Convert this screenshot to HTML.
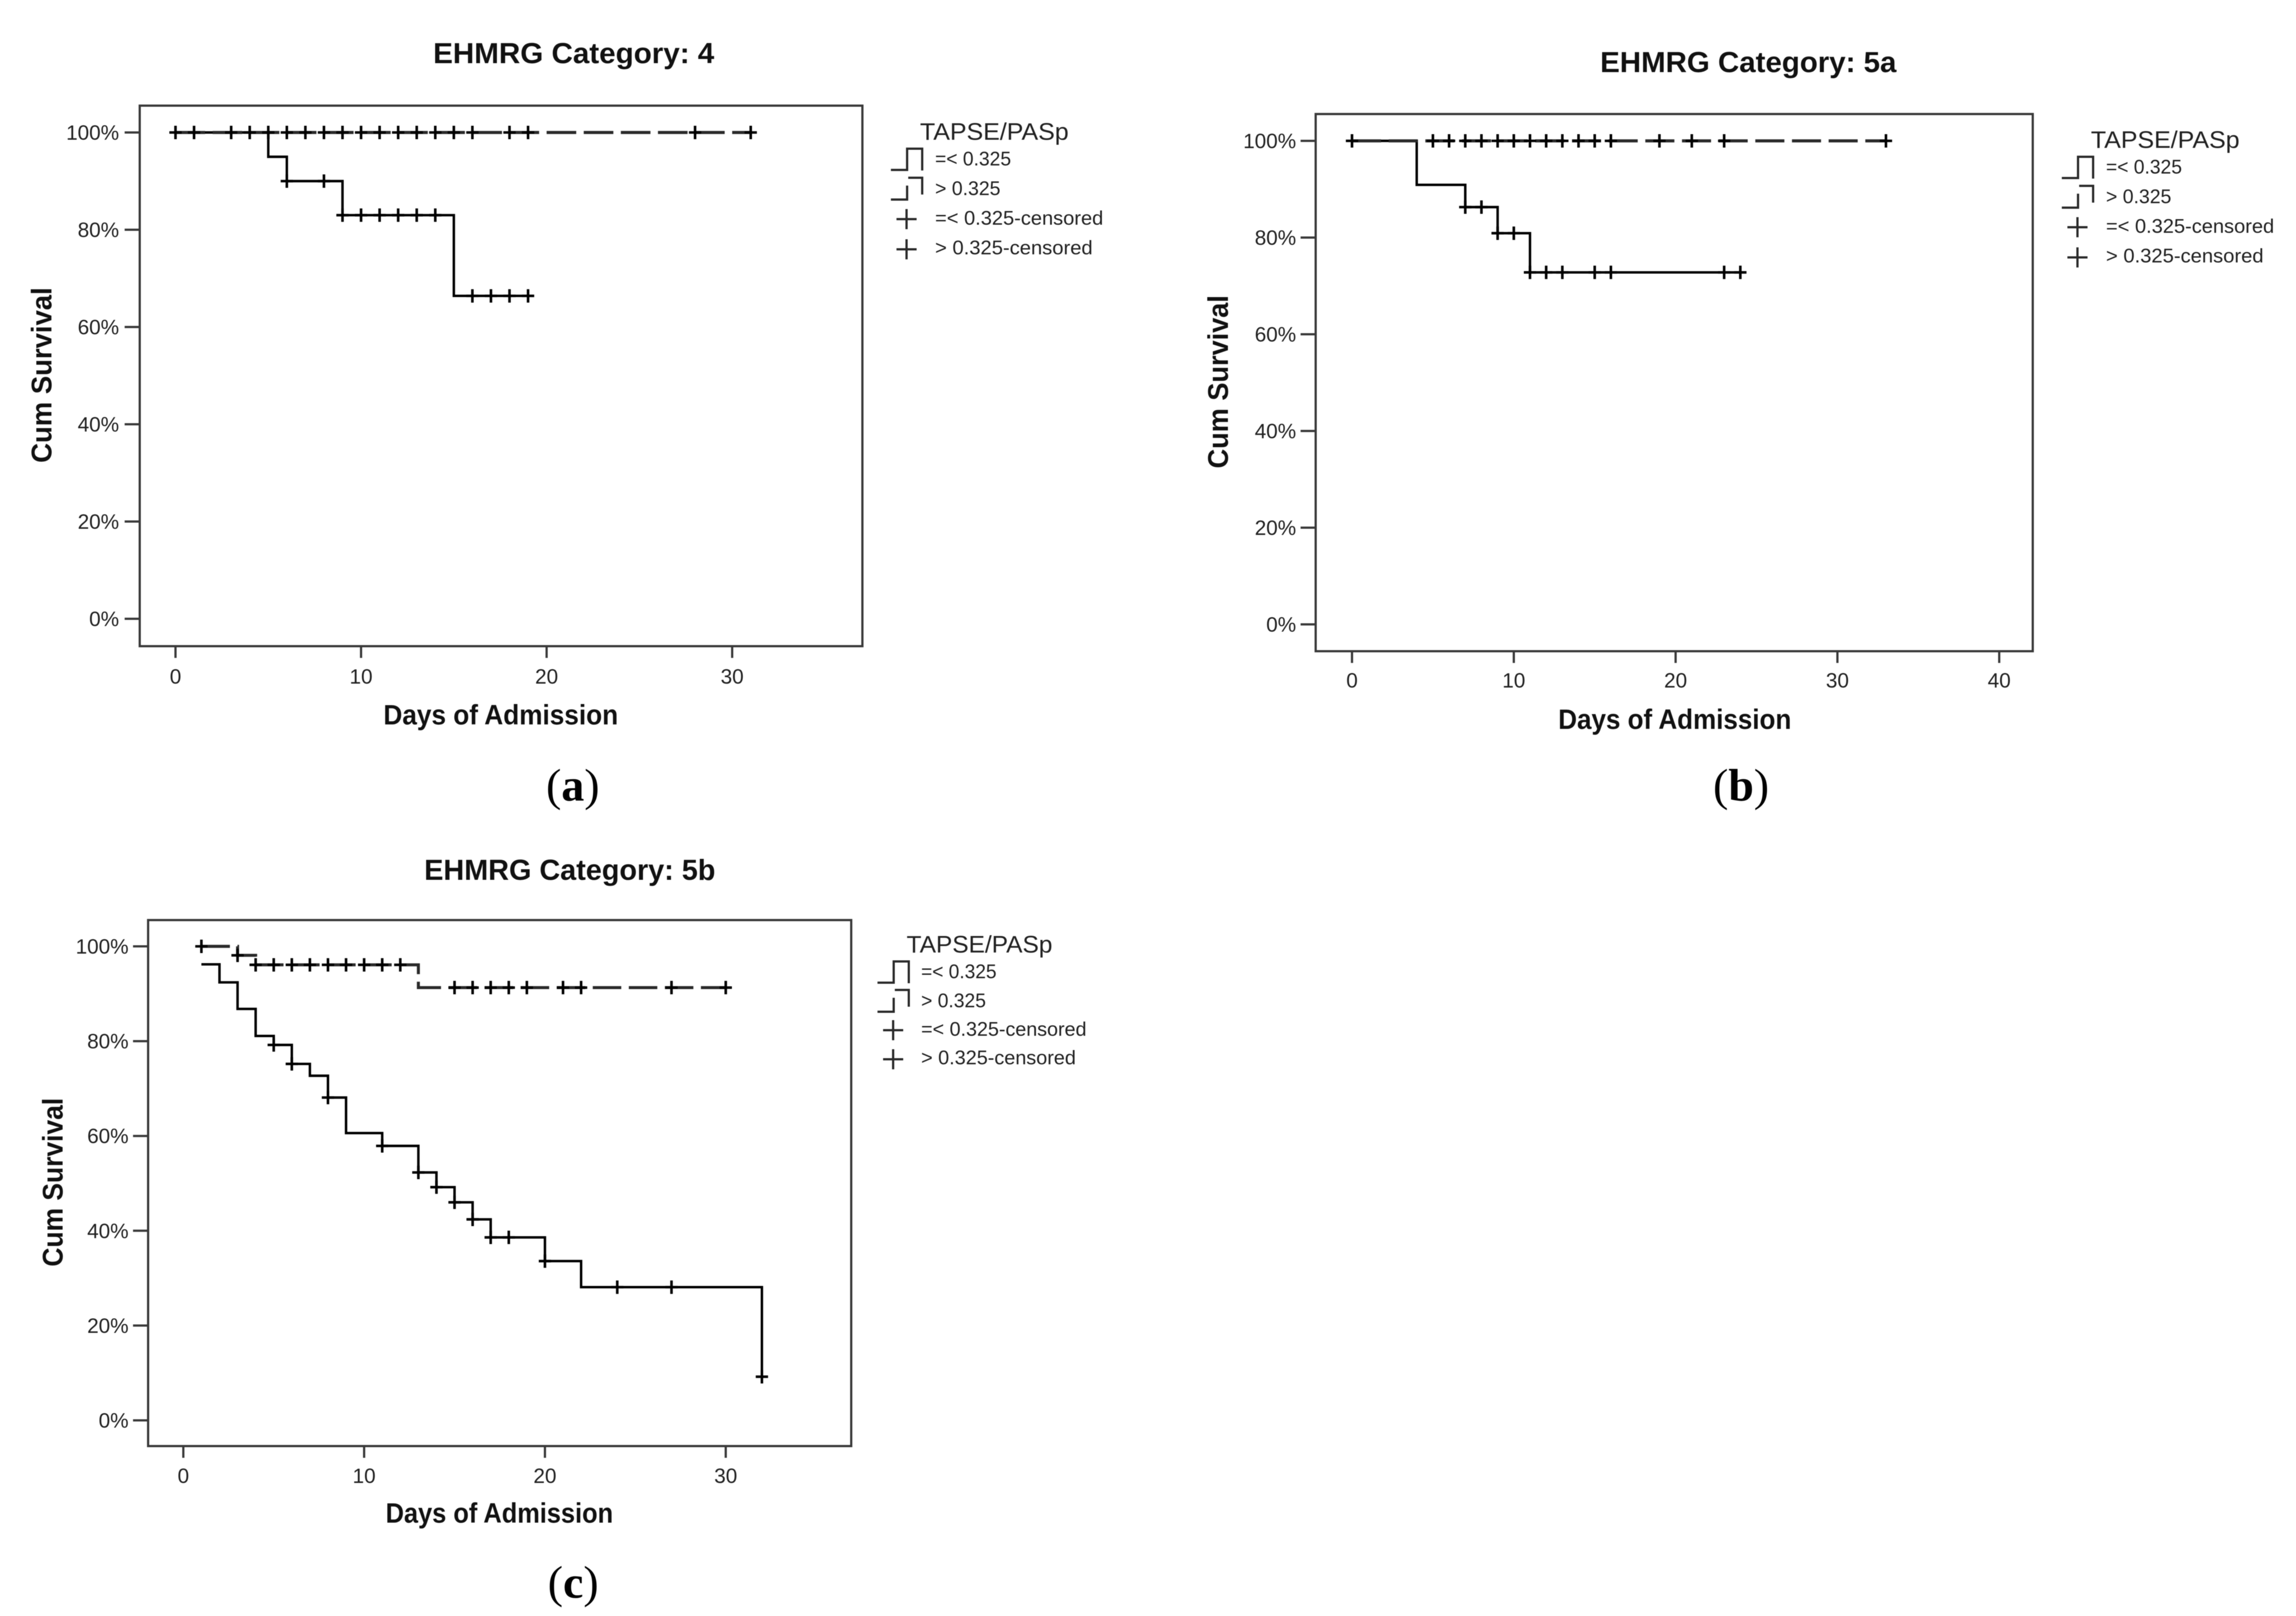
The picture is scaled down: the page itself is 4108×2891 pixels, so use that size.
<!DOCTYPE html>
<html lang="en">
<head>
<meta charset="utf-8">
<title>EHMRG Kaplan-Meier survival panels</title>
<style>
html,body{margin:0;padding:0;background:#fff;width:4108px;height:2891px;overflow:hidden}
svg{display:block;filter:blur(0.6px)}
text{font-family:"Liberation Sans",sans-serif;fill:#222}
.title,.axis-title{font-weight:bold;fill:#111}
.tick-label{font-size:37px}
.legend-title{font-size:43px}
.legend-label{font-size:35px}
.caption{font-family:"Liberation Serif",serif;font-size:82px;fill:#000}
.caption tspan{font-weight:bold}
.frame{fill:none;stroke:#3a3a3a;stroke-width:4}
.sym{fill:none;stroke:#2a2a2a;stroke-width:4}
</style>
</head>
<body>
<svg id="figure" xmlns="http://www.w3.org/2000/svg" width="4108" height="2891" viewBox="0 0 4108 2891">
<rect width="4108" height="2891" fill="#fff"/>

<!-- Panel a -->
<g id="panel-a">
<text class="title" x="775" y="113" font-size="52" textLength="503" lengthAdjust="spacingAndGlyphs">EHMRG Category: 4</text>
<rect class="frame" x="250" y="189" width="1293" height="967"/>
<text class="axis-title" x="686" y="1296" font-size="50" textLength="420" lengthAdjust="spacingAndGlyphs">Days of Admission</text>
<text class="axis-title" transform="translate(92 828) rotate(-90)" font-size="51" textLength="314" lengthAdjust="spacingAndGlyphs">Cum Survival</text>
<text class="caption" x="977" y="1432">(<tspan>a</tspan>)</text>
</g>

<!-- Panel b -->
<g id="panel-b">
<text class="title" x="2863" y="129" font-size="52" textLength="530" lengthAdjust="spacingAndGlyphs">EHMRG Category: 5a</text>
<rect class="frame" x="2354" y="204" width="1283" height="961"/>
<text class="axis-title" x="2788" y="1304" font-size="50" textLength="417" lengthAdjust="spacingAndGlyphs">Days of Admission</text>
<text class="axis-title" transform="translate(2197 838) rotate(-90)" font-size="51" textLength="310" lengthAdjust="spacingAndGlyphs">Cum Survival</text>
<text class="caption" x="3065" y="1432">(<tspan>b</tspan>)</text>
</g>

<!-- Panel c -->
<g id="panel-c">
<text class="title" x="759" y="1574" font-size="52" textLength="521" lengthAdjust="spacingAndGlyphs">EHMRG Category: 5b</text>
<rect class="frame" x="265" y="1646" width="1258" height="941"/>
<text class="axis-title" x="690" y="2724" font-size="50" textLength="407" lengthAdjust="spacingAndGlyphs">Days of Admission</text>
<text class="axis-title" transform="translate(112 2266) rotate(-90)" font-size="51" textLength="302" lengthAdjust="spacingAndGlyphs">Cum Survival</text>
<text class="caption" x="980" y="2858">(<tspan>c</tspan>)</text>
</g>

<!-- Legend a -->
<g>
<text class="legend-title" x="1646" y="250" textLength="266" lengthAdjust="spacingAndGlyphs">TAPSE/PASp</text>
<path class="sym" d="M1594 304H1623V266H1650V305"/>
<path class="sym" d="M1594 357H1623V332M1625 318H1650V348"/>
<path class="sym" d="M1604 392H1640M1622 374V410"/>
<path class="sym" d="M1604 446H1640M1622 428V464"/>
<text class="legend-label" x="1673" y="296" textLength="136" lengthAdjust="spacingAndGlyphs">=&lt; 0.325</text>
<text class="legend-label" x="1673" y="349" textLength="117" lengthAdjust="spacingAndGlyphs">&gt; 0.325</text>
<text class="legend-label" x="1673" y="402" textLength="301" lengthAdjust="spacingAndGlyphs">=&lt; 0.325-censored</text>
<text class="legend-label" x="1673" y="455" textLength="282" lengthAdjust="spacingAndGlyphs">&gt; 0.325-censored</text>
</g>

<!-- Legend b -->
<g transform="translate(2095 14.5)">
<text class="legend-title" x="1646" y="250" textLength="266" lengthAdjust="spacingAndGlyphs">TAPSE/PASp</text>
<path class="sym" d="M1594 304H1623V266H1650V305"/>
<path class="sym" d="M1594 357H1623V332M1625 318H1650V348"/>
<path class="sym" d="M1604 392H1640M1622 374V410"/>
<path class="sym" d="M1604 446H1640M1622 428V464"/>
<text class="legend-label" x="1673" y="296" textLength="136" lengthAdjust="spacingAndGlyphs">=&lt; 0.325</text>
<text class="legend-label" x="1673" y="349" textLength="117" lengthAdjust="spacingAndGlyphs">&gt; 0.325</text>
<text class="legend-label" x="1673" y="402" textLength="301" lengthAdjust="spacingAndGlyphs">=&lt; 0.325-censored</text>
<text class="legend-label" x="1673" y="455" textLength="282" lengthAdjust="spacingAndGlyphs">&gt; 0.325-censored</text>
</g>

<!-- Legend c -->
<g transform="translate(-24 1454)">
<text class="legend-title" x="1646" y="250" textLength="261" lengthAdjust="spacingAndGlyphs">TAPSE/PASp</text>
<path class="sym" d="M1594 304H1623V266H1650V305"/>
<path class="sym" d="M1594 356H1623V331M1625 317H1650V347"/>
<path class="sym" d="M1604 389H1640M1622 371V407"/>
<path class="sym" d="M1604 441H1640M1622 423V459"/>
<text class="legend-label" x="1672" y="296" textLength="135" lengthAdjust="spacingAndGlyphs">=&lt; 0.325</text>
<text class="legend-label" x="1672" y="348" textLength="116" lengthAdjust="spacingAndGlyphs">&gt; 0.325</text>
<text class="legend-label" x="1672" y="399" textLength="296" lengthAdjust="spacingAndGlyphs">=&lt; 0.325-censored</text>
<text class="legend-label" x="1672" y="450" textLength="277" lengthAdjust="spacingAndGlyphs">&gt; 0.325-censored</text>
</g>
</svg>

<script>
// Shared tick values
var yTickValues = [0, 20, 40, 60, 80, 100];
var xTicksA = [0, 10, 20, 30];
var xTicksB = [0, 10, 20, 30, 40];
var xTicksC = [0, 10, 20, 30];

// Panel a: EHMRG category 4
var aLowDays = [0, 5, 6, 9, 15, 19];
var aLowSurvival = [100, 95, 90, 83, 66.4, 66.4];
var aLowCensored = [6, 8, 9, 10, 11, 12, 13, 14, 16, 17, 18, 19];
var aHighDays = [0, 31];
var aHighSurvival = [100, 100];
var aHighCensored = [0, 1, 3, 4, 5, 6, 7, 8, 9, 10, 11, 12, 13, 14, 15, 16, 18, 19, 28, 31];

// Panel b: EHMRG category 5a
var bLowDays = [0, 4, 7, 9, 11, 24];
var bLowSurvival = [100, 90.9, 86.3, 80.9, 72.8, 72.8];
var bLowCensored = [7, 8, 9, 10, 11, 12, 13, 15, 16, 23, 24];
var bHighDays = [0, 33];
var bHighSurvival = [100, 100];
var bHighCensored = [0, 5, 6, 7, 8, 9, 10, 11, 12, 13, 14, 15, 16, 19, 21, 23, 33];

// Panel c: EHMRG category 5b
var cLowDays = [1, 2, 3, 4, 5, 6, 7, 8, 9, 11, 13, 14, 15, 16, 17, 20, 22, 32];
var cLowSurvival = [96.2, 92.4, 86.8, 81.1, 79.2, 75.2, 72.7, 68.1, 60.6, 57.9, 52.3, 49.2, 46, 42.4, 38.6, 33.6, 28.1, 9.2];
var cLowCensored = [5, 6, 8, 11, 13, 14, 15, 16, 17, 18, 20, 24, 27, 32];
var cHighDays = [1, 3, 4, 13, 30];
var cHighSurvival = [100, 98.1, 96.1, 91.3, 91.3];
var cHighCensored = [1, 3, 4, 5, 6, 7, 8, 9, 10, 11, 12, 15, 16, 17, 18, 19, 21, 22, 27, 30];

var NS = 'http://www.w3.org/2000/svg';

function survivalAt(days, survival, t) {
  var s = survival[0];
  for (var i = 0; i < days.length; i++) {
    if (days[i] <= t) s = survival[i];
  }
  return s;
}

function stepPath(days, survival, xAxis, yAxis) {
  var d = 'M' + xAxis(days[0]) + ' ' + yAxis(survival[0]);
  for (var i = 1; i < days.length; i++) {
    d += 'H' + xAxis(days[i]) + 'V' + yAxis(survival[i]);
  }
  return d;
}

function drawPanel(key, frame, xZero, xPerDay, yZero, yHundred, xTicks, labelRight, xLabelY, dash, low, high) {
  var host = document.getElementById('panel-' + key);
  var xAxis = function (t) { return xZero + xPerDay * t; };
  var yAxis = function (v) { return yZero + (yHundred - yZero) * v / 100; };

  yTickValues.forEach(function (v) {
    var tick = document.createElementNS(NS, 'line');
    tick.setAttribute('x1', frame.left - 27);
    tick.setAttribute('x2', frame.left);
    tick.setAttribute('y1', yAxis(v));
    tick.setAttribute('y2', yAxis(v));
    tick.setAttribute('stroke', '#3a3a3a');
    tick.setAttribute('stroke-width', '4');
    
    
    host.appendChild(tick);

    var label = document.createElementNS(NS, 'text');
    label.setAttribute('class', 'tick-label');
    label.setAttribute('x', labelRight);
    label.setAttribute('y', yAxis(v) + 13);
    label.setAttribute('text-anchor', 'end');
    
    
    label.textContent = v + '%';
    host.appendChild(label);
  });

  xTicks.forEach(function (t) {
    var tick = document.createElementNS(NS, 'line');
    tick.setAttribute('x1', xAxis(t));
    tick.setAttribute('x2', xAxis(t));
    tick.setAttribute('y1', frame.bottom);
    tick.setAttribute('y2', frame.bottom + 21);
    tick.setAttribute('stroke', '#3a3a3a');
    tick.setAttribute('stroke-width', '4');
    
    
    host.appendChild(tick);

    var label = document.createElementNS(NS, 'text');
    label.setAttribute('class', 'tick-label');
    label.setAttribute('x', xAxis(t));
    label.setAttribute('y', xLabelY);
    label.setAttribute('text-anchor', 'middle');
    
    
    label.textContent = t;
    host.appendChild(label);
  });

  var lowLine = document.createElementNS(NS, 'path');
  lowLine.setAttribute('d', stepPath(low.days, low.survival, xAxis, yAxis));
  lowLine.setAttribute('fill', 'none');
  lowLine.setAttribute('stroke', '#000');
  lowLine.setAttribute('stroke-width', '4.4');
  
  
  host.appendChild(lowLine);

  var highLine = document.createElementNS(NS, 'path');
  highLine.setAttribute('d', stepPath(high.days, high.survival, xAxis, yAxis));
  highLine.setAttribute('fill', 'none');
  highLine.setAttribute('stroke', '#2a2a2a');
  highLine.setAttribute('stroke-width', '5.4');
  highLine.setAttribute('stroke-dasharray', dash);
  
  
  host.appendChild(highLine);

  low.censored.forEach(function (t) {
    var cx = xAxis(t);
    var cy = yAxis(survivalAt(low.days, low.survival, t));
    var mark = document.createElementNS(NS, 'path');
    mark.setAttribute('d', 'M' + (cx - 11) + ' ' + cy + 'H' + (cx + 11) + 'M' + cx + ' ' + (cy - 12) + 'V' + (cy + 12));
    mark.setAttribute('fill', 'none');
    mark.setAttribute('stroke', '#000');
    mark.setAttribute('stroke-width', '4.6');
    
    
    host.appendChild(mark);
  });

  high.censored.forEach(function (t) {
    var cx = xAxis(t);
    var cy = yAxis(survivalAt(high.days, high.survival, t));
    var mark = document.createElementNS(NS, 'path');
    mark.setAttribute('d', 'M' + (cx - 11) + ' ' + cy + 'H' + (cx + 11) + 'M' + cx + ' ' + (cy - 12) + 'V' + (cy + 12));
    mark.setAttribute('fill', 'none');
    mark.setAttribute('stroke', '#000');
    mark.setAttribute('stroke-width', '4.6');
    
    
    host.appendChild(mark);
  });
}

drawPanel('a', {left: 250, bottom: 1156}, 314, 33.2, 1107, 237, xTicksA, 213, 1223, '53 13.4',
  {days: aLowDays, survival: aLowSurvival, censored: aLowCensored},
  {days: aHighDays, survival: aHighSurvival, censored: aHighCensored});

drawPanel('b', {left: 2354, bottom: 1165}, 2419, 28.95, 1117, 252, xTicksB, 2319, 1230, '52 13.6',
  {days: bLowDays, survival: bLowSurvival, censored: bLowCensored},
  {days: bHighDays, survival: bHighSurvival, censored: bHighCensored});

drawPanel('c', {left: 265, bottom: 2587}, 328, 32.35, 2541, 1693, xTicksC, 230, 2653, '51 13.5',
  {days: cLowDays, survival: cLowSurvival, censored: cLowCensored},
  {days: cHighDays, survival: cHighSurvival, censored: cHighCensored});
</script>
</body>
</html>
